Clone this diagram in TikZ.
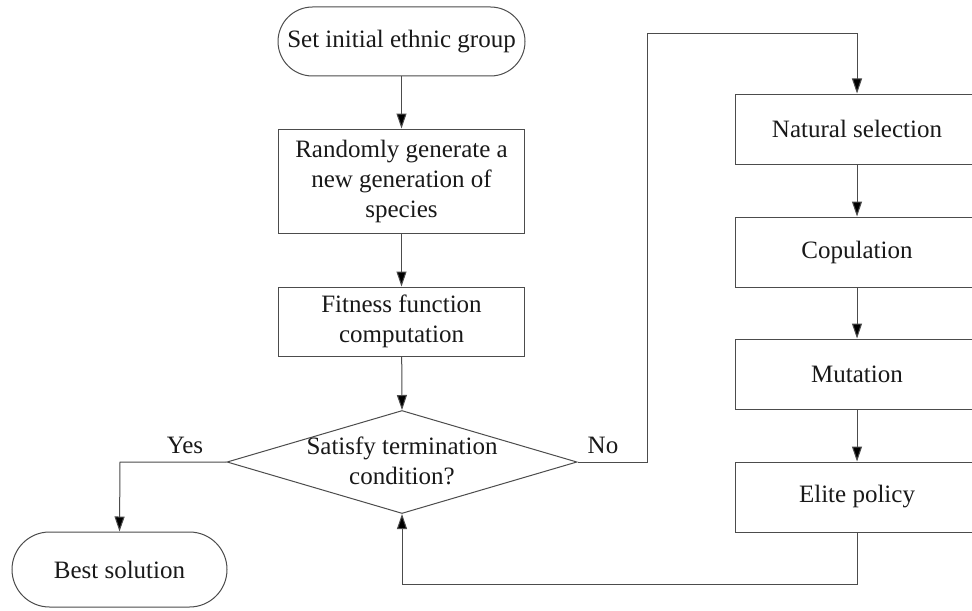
\documentclass[tikz,border=0pt]{standalone}
\usepackage{fontspec}
\setmainfont{Liberation Serif}
\usetikzlibrary{shapes.geometric,arrows.meta}
\begin{document}
\begin{tikzpicture}[x=0.5pt,y=-0.5pt,
  font=\fontsize{12.5}{15}\selectfont,
  line/.style={draw=black!70,line width=0.5pt},
  arr/.style={line,-{Triangle[length=7.5pt,width=5pt,fill=black]}},
  box/.style={line,rectangle,inner sep=0pt,align=center,text=black!90},
  term/.style={box,rounded corners=#1},
  lbl/.style={inner sep=0pt,text=black!90}]
\useasboundingbox (0,0) rectangle (972,610);
\clip (0,0) rectangle (972,610);
\fill[white] (0,0) rectangle (972,610);
\node[term=17.25pt,minimum width=123.5pt,minimum height=34.5pt] (start) at (401.5,41.5) {Set initial ethnic group};
\node[box,minimum width=123pt,minimum height=52pt] (rand) at (401.5,181) {Randomly generate a\\new generation of\\species};
\node[box,minimum width=123pt,minimum height=34.5pt] (fit) at (401.5,321.5) {Fitness function\\computation};
\node[line,diamond,minimum width=175pt,minimum height=51.5pt,inner sep=0pt] (dec) at (402,462) {};
\node[lbl,align=center] (dectext) at (402,461) {Satisfy termination\\condition?};
\node[term=18.75pt,minimum width=107.5pt,minimum height=37.5pt] (best) at (119.5,569.5) {Best solution};
\node[box,minimum width=122pt,minimum height=35pt] (ns) at (857,129) {Natural selection};
\node[box,minimum width=122pt,minimum height=35pt] (cop) at (857,252) {Copulation};
\node[box,minimum width=122pt,minimum height=35pt] (mut) at (857,374) {Mutation};
\node[box,minimum width=122pt,minimum height=35pt] (elite) at (857,497) {Elite policy};
\coordinate (ycorner) at (120,462);
\coordinate (n1) at (647,462);
\coordinate (n2) at (647,34);
\coordinate (n3) at (857,34);
\coordinate (b1) at (857,584);
\coordinate (b2) at (402,584);
\draw[arr] (start) -- (rand);
\draw[arr] (rand) -- (fit);
\draw[arr] (fit) -- (dec.north);
\draw[arr] (dec.west) -- (ycorner) -- (best.north);
\draw[arr] (dec.east) -- (n1) -- (n2) -- (n3) -- (ns.north);
\draw[arr] (ns) -- (cop);
\draw[arr] (cop) -- (mut);
\draw[arr] (mut) -- (elite);
\draw[arr] (elite.south) -- (b1) -- (b2) -- (dec.south);
\node[lbl] (yes) at (185,445) {Yes};
\node[lbl] (no) at (603,445) {No};
\end{tikzpicture}
\end{document}
